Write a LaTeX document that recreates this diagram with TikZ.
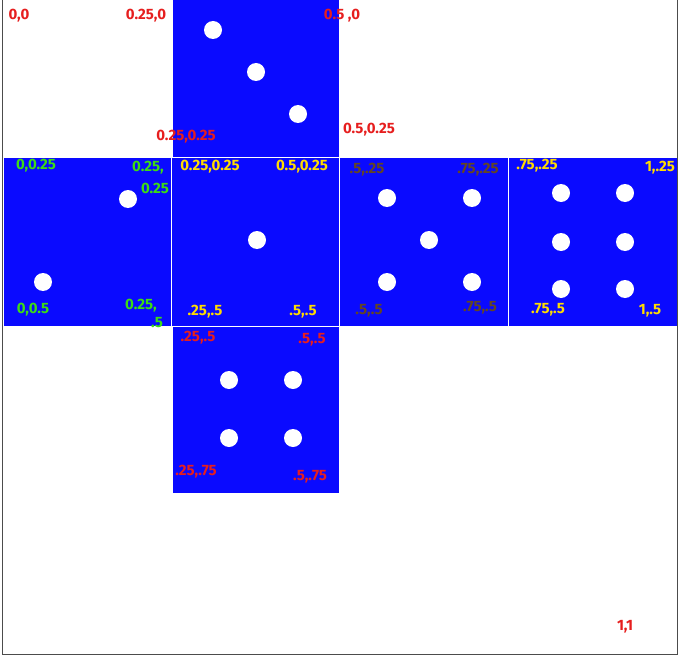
\documentclass[tikz,border=0pt]{standalone}
\usepackage{fontspec}
\setmainfont{Fira Sans}
\begin{document}
\begin{tikzpicture}[x=1pt,y=-1pt,
  pip/.style={circle,fill=white,draw=none,minimum size=18pt,inner sep=0pt},
  lbl/.style={font=\bfseries\fontsize{15}{15}\selectfont,inner sep=0pt,align=center},
  rd/.style={lbl,text=hred},
  gr/.style={lbl,text=hgreen},
  yl/.style={lbl,text=hyellow},
  br/.style={lbl,text=hbrown}]
\definecolor{dieblue}{RGB}{10,10,255}
\definecolor{hred}{RGB}{230,30,30}
\definecolor{hgreen}{RGB}{60,220,20}
\definecolor{hyellow}{RGB}{255,220,0}
\definecolor{hbrown}{RGB}{100,70,35}
\useasboundingbox (0,0) rectangle (679,655);
% frame
\draw[color=black!70,line width=1pt] (2,0) -- (2,654) -- (677,654) -- (677,0);
% faces
\fill[dieblue] (173,0) rectangle (339,157);
\fill[dieblue] (4,158) rectangle (677,326);
\fill[dieblue] (173,327) rectangle (339,493);
\draw[white,line width=1.5pt] (171.5,158) -- (171.5,326);
\draw[white,line width=1.5pt] (339.5,158) -- (339.5,326);
\draw[white,line width=1.5pt] (508.5,158) -- (508.5,326);
\draw[white,line width=1.5pt] (172,157.5) -- (340,157.5);
\draw[white,line width=1.5pt] (172,326.5) -- (340,326.5);
% pips: top face (3)
\node[pip] (t1) at (213,30) {};
\node[pip] (t2) at (256,72) {};
\node[pip] (t3) at (298,114) {};
% left face (2)
\node[pip] (l1) at (128,199) {};
\node[pip] (l2) at (43,282) {};
% centre face (1)
\node[pip] (c1) at (257,240) {};
% face with 5
\node[pip] (f1) at (387,198) {};
\node[pip] (f2) at (472,198) {};
\node[pip] (f3) at (429,240) {};
\node[pip] (f4) at (387,282) {};
\node[pip] (f5) at (472,282) {};
% face with 6
\node[pip] (s1) at (561,193) {};
\node[pip] (s2) at (625,193) {};
\node[pip] (s3) at (561,242) {};
\node[pip] (s4) at (625,242) {};
\node[pip] (s5) at (561,289) {};
\node[pip] (s6) at (625,289) {};
% bottom face (4)
\node[pip] (b1) at (229,380) {};
\node[pip] (b2) at (293,380) {};
\node[pip] (b3) at (229,438) {};
\node[pip] (b4) at (293,438) {};
% labels
\node[rd] (a1) at (19,16) {0,0};
\node[rd] (a2) at (146,16) {0.25,0};
\node[rd] (a3) at (342,16) {0.5 ,0};
\node[rd] (a4) at (186,137) {0.25,0.25};
\node[rd] (a5) at (369,130) {0.5,0.25};
\node[gr] (g1) at (36,166) {0,0.25};
\node[gr] (g2) at (148,168) {0.25,};
\node[gr] (g3) at (155,188) {0.25};
\node[gr] (g4) at (33,310) {0,0.5};
\node[gr] (g5) at (141,306) {0.25,};
\node[gr] (g6) at (157,323) {.5};
\node[yl] (y1) at (210,167) {0.25,0.25};
\node[yl] (y2) at (302,167) {0.5,0.25};
\node[br] (r1) at (367,170) {.5,.25};
\node[br] (r2) at (478,170) {.75,.25};
\node[yl] (y3) at (537,166) {.75,.25};
\node[yl] (y4) at (660,168) {1,.25};
\node[yl] (y5) at (205,312) {.25,.5};
\node[yl] (y6) at (303,312) {.5,.5};
\node[br] (r3) at (369,311) {.5,.5};
\node[br] (r4) at (480,308) {.75,.5};
\node[yl] (y7) at (548,310) {.75,.5};
\node[yl] (y8) at (650,311) {1,.5};
\node[rd] (a6) at (198,338) {.25,.5};
\node[rd] (a7) at (312,340) {.5,.5};
\node[rd] (a8) at (196,472) {.25,.75};
\node[rd] (a9) at (310,477) {.5,.75};
\node[rd] (a10) at (625,627) {1,1};
\end{tikzpicture}
\end{document}
